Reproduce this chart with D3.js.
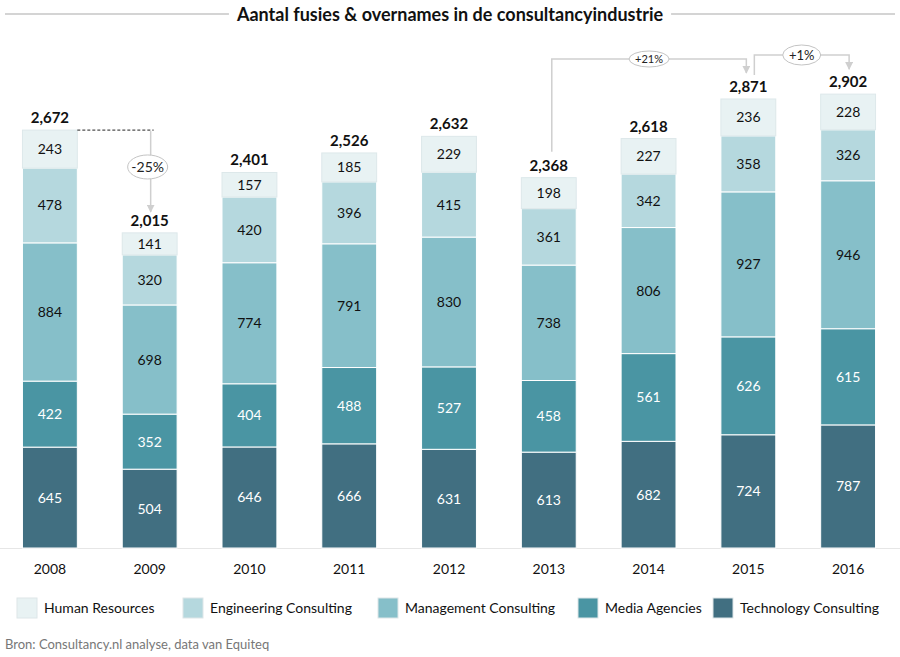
<!DOCTYPE html>
<html lang="nl">
<head>
<meta charset="UTF-8">
<title>Aantal fusies & overnames in de consultancyindustrie</title>
<script src="https://d3js.org/d3.v7.min.js"></script>
<style>
  body { margin: 0; background: #fff; }
  svg { display: block; font-family: Lato, 'Open Sans', sans-serif; }
</style>
</head>
<body>
<div id="chart"></div>
<script>
  const years = [2008, 2009, 2010, 2011, 2012, 2013, 2014, 2015, 2016];
  const humanResources = [243, 141, 157, 185, 229, 198, 227, 236, 228];
  const engineering = [478, 320, 420, 396, 415, 361, 342, 358, 326];
  const management = [884, 698, 774, 791, 830, 738, 806, 927, 946];
  const media = [422, 352, 404, 488, 527, 458, 561, 626, 615];
  const technology = [645, 504, 646, 666, 631, 613, 682, 724, 787];
  const totals = [2672, 2015, 2401, 2526, 2632, 2368, 2618, 2871, 2902];
  const seriesNames = ["Human Resources", "Engineering Consulting", "Management Consulting", "Media Agencies", "Technology Consulting"];
  const changes = [
    { from: 2008, to: 2009, label: "-25%" },
    { from: 2013, to: 2015, label: "+21%" },
    { from: 2015, to: 2016, label: "+1%" }
  ];

  const width = 900, height = 657;
  const baseY = 548;

  // stack: technology at the bottom, HR on top
  const stackKeys = ["Technology Consulting", "Media Agencies", "Management Consulting", "Engineering Consulting", "Human Resources"];
  const colors = {
    "Human Resources": "#e8f2f3",
    "Engineering Consulting": "#b5d8de",
    "Management Consulting": "#86bfc9",
    "Media Agencies": "#4a95a3",
    "Technology Consulting": "#416f81"
  };
  const textColors = {
    "Human Resources": "#111",
    "Engineering Consulting": "#111",
    "Management Consulting": "#111",
    "Media Agencies": "#fff",
    "Technology Consulting": "#fff"
  };

  const rows = years.map((yr, i) => ({
    year: yr,
    "Human Resources": humanResources[i],
    "Engineering Consulting": engineering[i],
    "Management Consulting": management[i],
    "Media Agencies": media[i],
    "Technology Consulting": technology[i],
    total: totals[i]
  }));

  const svg = d3.select("#chart").append("svg")
    .attr("width", width)
    .attr("height", height);

  const x = d3.scaleBand()
    .domain(years)
    .range([0, 898])
    .paddingInner(0.45)
    .paddingOuter(0.225);

  const y = d3.scaleLinear()
    .domain([0, 3000])
    .range([baseY, baseY - 3000 * 0.1564]);

  const xc = yr => x(yr) + x.bandwidth() / 2;
  const totalOf = yr => totals[years.indexOf(yr)];

  // title with side rules
  const title = svg.append("text")
    .attr("x", width / 2)
    .attr("y", 21)
    .attr("text-anchor", "middle")
    .attr("font-size", "18px")
    .attr("font-weight", 700)
    .attr("fill", "#111")
    .text("Aantal fusies & overnames in de consultancyindustrie");
  const tw = title.node().getComputedTextLength();
  svg.append("line").attr("x1", 5).attr("x2", width / 2 - tw / 2 - 8)
    .attr("y1", 14).attr("y2", 14).attr("stroke", "#d4d4d4").attr("stroke-width", 2);
  svg.append("line").attr("x1", width / 2 + tw / 2 + 8).attr("x2", 895)
    .attr("y1", 14).attr("y2", 14).attr("stroke", "#d4d4d4").attr("stroke-width", 2);

  // baseline
  svg.append("line")
    .attr("x1", 0).attr("x2", width)
    .attr("y1", baseY + 0.5).attr("y2", baseY + 0.5)
    .attr("stroke", "#e6e6e6");

  // bars
  const stacked = d3.stack().keys(stackKeys)(rows);
  const layers = svg.append("g").selectAll("g")
    .data(stacked)
    .join("g");

  layers.selectAll("rect")
    .data(d => d.map(v => ({ key: d.key, v })))
    .join("rect")
    .attr("x", d => x(d.v.data.year))
    .attr("y", d => y(d.v[1]))
    .attr("width", x.bandwidth())
    .attr("height", d => y(d.v[0]) - y(d.v[1]))
    .attr("fill", d => colors[d.key])
    .attr("stroke", d => d.key === "Human Resources" ? "#dde8ea" : "#fff")
    .attr("stroke-width", 1);

  layers.selectAll("text")
    .data(d => d.map(v => ({ key: d.key, v })))
    .join("text")
    .attr("x", d => xc(d.v.data.year))
    .attr("y", d => (y(d.v[0]) + y(d.v[1])) / 2 + 5)
    .attr("text-anchor", "middle")
    .attr("font-size", "14px")
    .attr("fill", d => textColors[d.key])
    .text(d => d.v.data[d.key]);

  // totals
  svg.append("g").selectAll("text")
    .data(rows)
    .join("text")
    .attr("x", d => xc(d.year))
    .attr("y", d => y(d.total) - 7)
    .attr("text-anchor", "middle")
    .attr("font-size", "15px")
    .attr("font-weight", 700)
    .attr("fill", "#111")
    .text(d => d3.format(",")(d.total));

  // x axis labels
  svg.append("g")
    .attr("transform", `translate(0, ${baseY})`)
    .call(d3.axisBottom(x).tickSize(0).tickPadding(16))
    .call(g => g.select(".domain").remove())
    .call(g => g.selectAll("text")
      .attr("font-family", "Lato, 'Open Sans', sans-serif")
      .attr("font-size", "14px")
      .attr("fill", "#111"));

  // annotations
  const grey = "#cfcfcf";
  const defs = svg.append("defs");
  defs.append("marker")
    .attr("id", "arrow")
    .attr("viewBox", "0 0 10 10")
    .attr("refX", 9).attr("refY", 5)
    .attr("markerWidth", 8).attr("markerHeight", 8)
    .attr("markerUnits", "userSpaceOnUse")
    .attr("orient", "auto")
    .append("path")
    .attr("d", "M0,0 L10,5 L0,10 Z")
    .attr("fill", grey);

  const ann = svg.append("g");

  function bubble(cx, cy, rx, ry, label, fs) {
    ann.append("ellipse")
      .attr("cx", cx).attr("cy", cy).attr("rx", rx).attr("ry", ry)
      .attr("fill", "#fff").attr("stroke", "#c4c4c4").attr("stroke-width", 1);
    ann.append("text")
      .attr("x", cx).attr("y", cy + fs * 0.36)
      .attr("text-anchor", "middle")
      .attr("font-size", fs + "px")
      .attr("fill", "#222")
      .text(label);
  }

  // 2008 -> 2009
  {
    const c = changes[0];
    const y0 = y(totalOf(c.from));
    const vx = xc(c.to) + 1;
    const yEnd = y(totalOf(c.to)) - 21;
    ann.append("line")
      .attr("x1", x(c.from) + x.bandwidth()).attr("x2", vx + 3)
      .attr("y1", y0).attr("y2", y0)
      .attr("stroke", "#222").attr("stroke-width", 1).attr("stroke-dasharray", "3,2");
    ann.append("line")
      .attr("x1", vx).attr("x2", vx)
      .attr("y1", y0 + 1).attr("y2", yEnd)
      .attr("stroke", grey).attr("stroke-width", 1.5)
      .attr("marker-end", "url(#arrow)");
    bubble(vx - 3, (y0 + yEnd) / 2 - 4, 20, 12, c.label, 14);
  }

  // 2013 -> 2015
  {
    const c = changes[1];
    const topY = 59;
    const x1 = xc(c.from) + 3;
    const x2 = xc(c.to) - 2;
    ann.append("path")
      .attr("d", `M${x1},${y(totalOf(c.from)) - 26} V${topY} H${x2} V${y(totalOf(c.to)) - 26}`)
      .attr("fill", "none").attr("stroke", grey).attr("stroke-width", 1.5)
      .attr("marker-end", "url(#arrow)");
    bubble((x1 + x2) / 2, topY, 20, 8, c.label, 11);
  }

  // 2015 -> 2016
  {
    const c = changes[2];
    const topY = 55;
    const x1 = xc(c.from) + 6;
    const x2 = xc(c.to) + 1;
    ann.append("path")
      .attr("d", `M${x1},${y(totalOf(c.from)) - 24} V${topY} H${x2} V${y(totalOf(c.to)) - 25}`)
      .attr("fill", "none").attr("stroke", grey).attr("stroke-width", 1.5)
      .attr("marker-end", "url(#arrow)");
    bubble((x1 + x2) / 2, topY, 19, 10, c.label, 13);
  }

  // legend
  const legendX = [17, 183, 378, 578, 713];
  const legend = svg.append("g").selectAll("g")
    .data(seriesNames)
    .join("g")
    .attr("transform", (d, i) => `translate(${legendX[i]}, 598)`);
  legend.append("rect")
    .attr("width", 20).attr("height", 20)
    .attr("fill", d => colors[d])
    .attr("stroke", "#dde6e8").attr("stroke-width", 1);
  legend.append("text")
    .attr("x", 27).attr("y", 15)
    .attr("font-size", "14px")
    .attr("fill", "#111")
    .text(d => d);

  // source
  svg.append("text")
    .attr("x", 5).attr("y", 649)
    .attr("font-size", "13px")
    .attr("fill", "#777")
    .text("Bron: Consultancy.nl analyse, data van Equiteq");
</script>
</body>
</html>
